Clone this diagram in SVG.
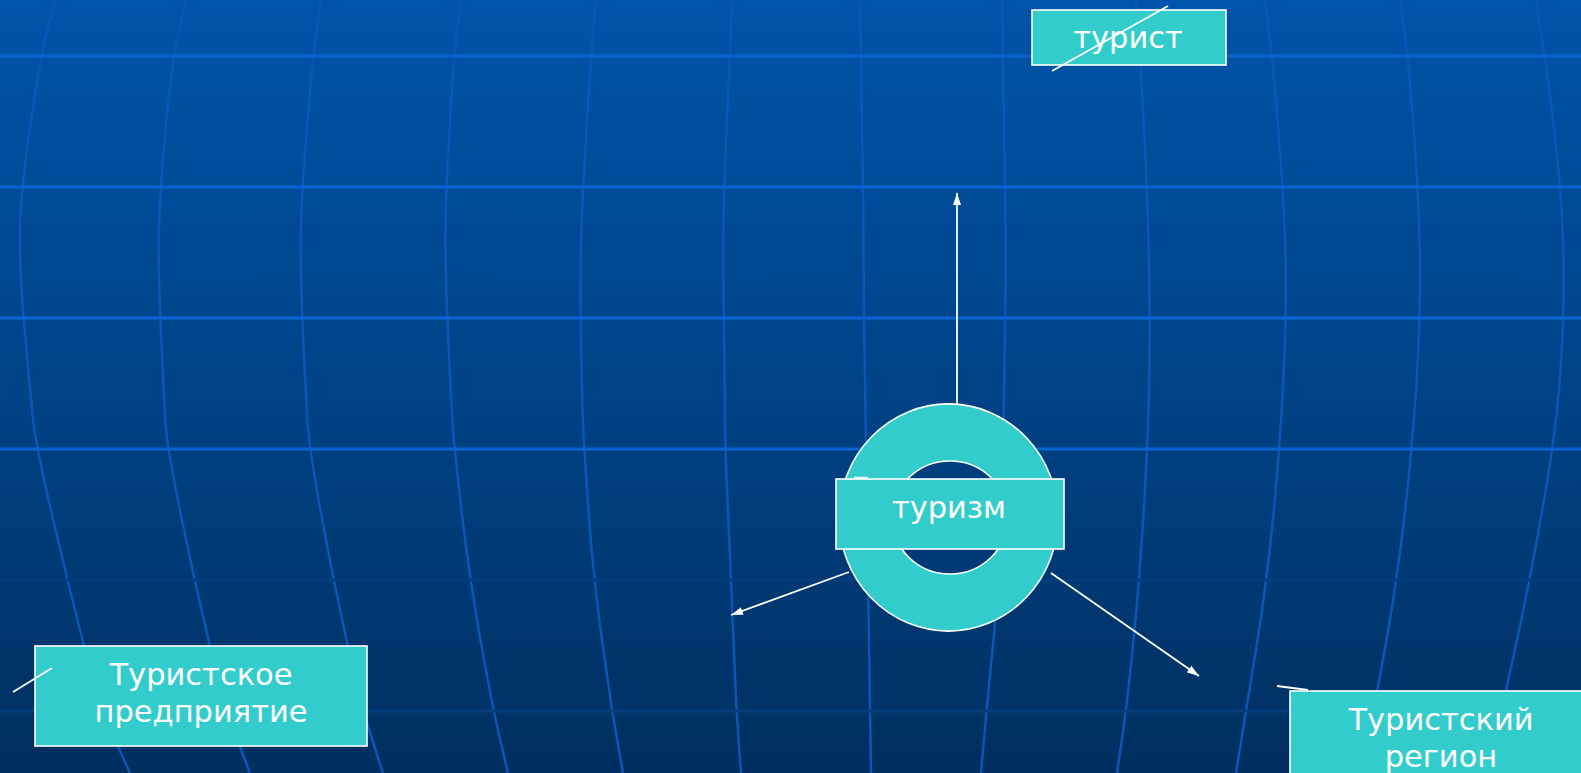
<svg xmlns="http://www.w3.org/2000/svg" width="1581" height="773" viewBox="0 0 1581 773">
<defs>
<linearGradient id="bg" x1="0" y1="0" x2="0" y2="1">
<stop offset="0" stop-color="#0054a9"/>
<stop offset="0.5" stop-color="#004387"/>
<stop offset="1" stop-color="#002f5f"/>
</linearGradient>
<marker id="arrow" markerUnits="userSpaceOnUse" markerWidth="13" markerHeight="8" refX="12" refY="4" orient="auto">
<path d="M0,0 L12,4 L0,8 z" fill="#ffffff"/>
</marker>
<style>
.vl{fill:none;stroke:#0a57b9;stroke-width:2.5;stroke-linejoin:round}
.hl{stroke:#0a65d3;stroke-width:3}
.hf{stroke:#043d7c;stroke-width:3}
.box{fill:#33cccc;stroke:#ffffff;stroke-width:1.6}
.lbl{font-family:"DejaVu Sans","Noto Sans",sans-serif;font-size:30.5px;fill:#ffffff;text-anchor:middle}
.con{stroke:#ffffff;stroke-width:1.8;fill:none}
</style>
</defs>
<g id="background">
<rect x="0" y="0" width="1581" height="773" fill="url(#bg)"/>
<path class="vl" d="M55,0 L48,27.5 Q41,55 31,120.5 Q21,186 20,226.5 Q19,267 25,333.5 Q31,400 33.5,423 Q36,446 51,510.5 Q66,575 82.5,640 Q99,705 114.5,739 L130,773"/>
<path class="vl" d="M186,0 L179.5,27.5 Q173,55 166.5,120.5 Q160,186 159,226.5 Q158,267 161,333.5 Q164,400 165.5,423 Q167,446 180,510.5 Q193,575 208.5,640 Q224,705 237,739 L250,773"/>
<path class="vl" d="M321,0 L317,27.5 Q313,55 307.5,120.5 Q302,186 301,226.5 Q300,267 303,333.5 Q306,400 307.5,423 Q309,446 320.5,510.5 Q332,575 346.5,640 Q361,705 372,739 L383,773"/>
<path class="vl" d="M461,0 L457.5,27.5 Q454,55 450,120.5 Q446,186 445.5,226.5 Q445,267 448,333.5 Q451,400 452.5,423 Q454,446 461.5,510.5 Q469,575 480.5,640 Q492,705 500,739 L508,773"/>
<path class="vl" d="M596,0 L593.5,27.5 Q591,55 587,120.5 Q583,186 581.5,226.5 Q580,267 581,333.5 Q582,400 583,423 Q584,446 588.5,510.5 Q593,575 602,640 Q611,705 617,739 L623,773"/>
<path class="vl" d="M732,0 L731,27.5 Q730,55 727,120.5 Q724,186 723.5,226.5 Q723,267 724,333.5 Q725,400 725,423 Q725,446 728,510.5 Q731,575 733.5,640 Q736,705 738.5,739 L741,773"/>
<polyline class="vl" points="860,0 863,186 864,316 866,446 868,575 871,773"/>
<path class="vl" d="M1002,0 L1003.5,93 Q1005,186 1005.5,226.5 Q1006,267 1005,333.5 Q1004,400 1003.5,423 Q1003,446 1001.5,510.5 Q1000,575 993.5,640 Q987,705 984,739 L981,773"/>
<path class="vl" d="M1136,0 L1138,27.5 Q1140,55 1143.5,120.5 Q1147,186 1148.5,243 Q1150,300 1149.5,360 Q1149,420 1144.5,497.5 Q1140,575 1133.5,640 Q1127,705 1122,739 L1117,773"/>
<path class="vl" d="M1265,0 L1268.5,27.5 Q1272,55 1277.5,120.5 Q1283,186 1285,238 Q1287,290 1284.5,355 Q1282,420 1275,497.5 Q1268,575 1257.5,640 Q1247,705 1241.5,739 L1236,773"/>
<path class="vl" d="M1400,0 L1404,27.5 Q1408,55 1413,120.5 Q1418,186 1419.5,238 Q1421,290 1418,355 Q1415,420 1406.5,497.5 Q1398,575 1386.5,640 Q1375,705 1367.5,739 L1360,773"/>
<path class="vl" d="M1536,0 L1540.5,27.5 Q1545,55 1553,120.5 Q1561,186 1563,238 Q1565,290 1561.5,355 Q1558,420 1544.5,497.5 Q1531,575 1517,640 Q1503,705 1495,739 L1487,773"/>
<line class="hl" x1="0" y1="56" x2="1581" y2="56"/>
<line class="hl" x1="0" y1="187" x2="1581" y2="187"/>
<line class="hl" x1="0" y1="318" x2="1581" y2="318"/>
<line class="hl" x1="0" y1="449" x2="1581" y2="449"/>
<line class="hf" x1="0" y1="580" x2="1581" y2="580"/>
<line class="hf" x1="0" y1="711" x2="1581" y2="711"/>
</g>
<g id="connectors">
<line class="con" x1="957" y1="404" x2="957" y2="193" marker-end="url(#arrow)"/>
<line class="con" x1="849" y1="572" x2="731" y2="615" marker-end="url(#arrow)"/>
<line class="con" x1="1051" y1="573" x2="1199" y2="676" marker-end="url(#arrow)"/>
</g>
<g id="node-tourism">
<path d="M839,517.5 a109.5,113.5 0 1,0 219,0 a109.5,113.5 0 1,0 -219,0 z M892,517.5 a58,56.5 0 1,0 116,0 a58,56.5 0 1,0 -116,0 z" fill="#33cccc" fill-rule="evenodd" stroke="#ffffff" stroke-width="1.6"/>
<line x1="854" y1="478" x2="868" y2="478" stroke="#e8ffff" stroke-width="2.5"/>
<rect class="box" x="836" y="479" width="228" height="70"/>
<text class="lbl" x="949" y="518">туризм</text>
</g>
<g id="node-tourist">
<rect class="box" x="1032" y="10" width="194" height="55"/>
<text class="lbl" x="1128" y="48">турист</text>
<line class="con" x1="1052" y1="71" x2="1168" y2="6"/>
</g>
<g id="node-enterprise">
<rect class="box" x="35" y="646" width="332" height="100"/>
<text class="lbl" x="201" y="685">Туристское</text>
<text class="lbl" x="201" y="722">предприятие</text>
<line class="con" x1="13" y1="692" x2="52" y2="668"/>
</g>
<g id="node-region">
<line class="con" x1="1277" y1="686" x2="1308" y2="690"/>
<rect class="box" x="1290" y="691" width="303" height="110"/>
<text class="lbl" x="1441" y="730">Туристский</text>
<text class="lbl" x="1441" y="767">регион</text>
</g>
</svg>
